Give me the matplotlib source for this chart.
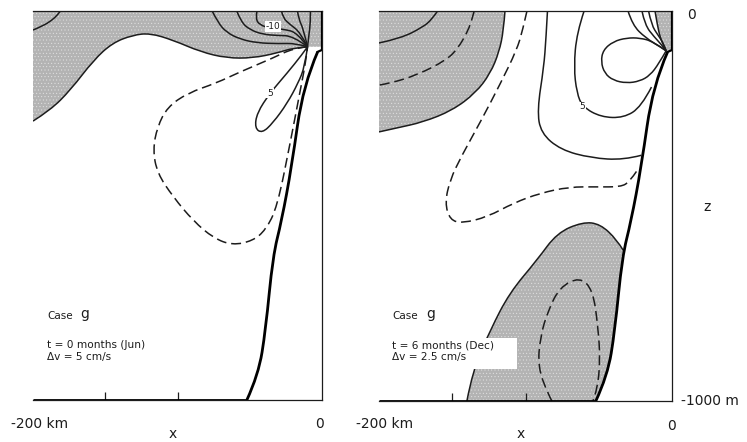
import matplotlib
matplotlib.use("Agg")
import matplotlib.pyplot as plt
from matplotlib.patches import PathPatch, Rectangle
from matplotlib.path import Path

plt.rcParams["font.family"] = ["DejaVu Sans"]
plt.rcParams["hatch.linewidth"] = 0.3

W, H = 747, 442

# shelf / slope topography (km, m), shared by both runs
SLOPE_X = [0, 0, -3, -13, -21, -28, -34, -39, -44, -52, -200]
SLOPE_Z = [0, -100, -105, -190, -400, -540, -630, -820, -935, -1000, -1000]

# ---- t = 0 months (Jun), dv = 5 cm/s ----
JUN_ZERO_X = [-200, -188, -174, -158, -145, -131, -119, -103, -84, -66, -48, -31, -20, -10]
JUN_ZERO_Z = [-283, -255, -203, -126, -82, -62, -57, -75, -105, -121, -121, -108, -95, -92]

JUN_CORNER_X = [-200, -193, -187, -183, -181]
JUN_CORNER_Z = [-49, -38, -24, -10, 0]

JUN_NEG1_X = [-76, -72, -66, -57, -45, -30, -18, -10]
JUN_NEG1_Z = [0, -30, -55, -72, -82, -84, -83, -92]
JUN_NEG2_X = [-59, -56, -50, -41, -31, -20, -10]
JUN_NEG2_Z = [0, -28, -48, -60, -63, -64, -92]
JUN_NEG3_X = [-45, -46, -43, -36, -26, -17, -10]
JUN_NEG3_Z = [0, -20, -36, -44, -47, -56, -92]
JUN_NEG4_X = [-28, -27, -22, -15, -10]
JUN_NEG4_Z = [0, -18, -35, -55, -92]
JUN_NEG5_X = [-17, -16, -13, -10]
JUN_NEG5_Z = [0, -22, -45, -92]
JUN_NEG6_X = [-8, -8, -9, -10]
JUN_NEG6_Z = [0, -30, -60, -92]

JUN_POS5_X = [-10, -14, -24, -36, -45, -46.5, -41.5, -34, -24, -16.5, -12, -10]
JUN_POS5_Z = [-92, -113, -159, -211, -262, -301, -314, -288, -237, -185, -144, -92]

JUN_DASH_X = [-10, -20, -34, -57, -73, -93, -107, -114, -117, -114, -103, -89, -75, -62,
              -48, -39, -31, -22, -15, -11, -10]
JUN_DASH_Z = [-92, -96, -121, -157, -185, -211, -247, -298, -357, -417, -478, -540, -584, -602,
              -591, -563, -504, -339, -203, -126, -92]

# ---- t = 6 months (Dec), dv = 2.5 cm/s ----
DEC_ZERO_X = [-114, -115, -118, -124, -134, -150, -170, -188, -200]
DEC_ZERO_Z = [0, -50, -105, -160, -210, -255, -285, -300, -310]

DEC_NEG1_X = [-160, -164, -170, -185, -200]
DEC_NEG1_Z = [0, -22, -41, -70, -82]
DEC_NEGDASH_X = [-135, -137, -140, -146, -154, -174, -192, -200]
DEC_NEGDASH_Z = [0, -28, -56, -95, -126, -164, -185, -190]

DEC_DASH_X = [-99, -102, -106, -117, -130, -144, -151.5, -155, -151.5, -143, -126, -108, -90,
              -70, -51, -35, -29, -24]
DEC_DASH_Z = [0, -50, -100, -185, -279, -374, -433, -492, -536, -544, -528, -492, -467,
              -451, -451, -451, -438, -410]

DEC_POS0_X = [-85, -86, -87.5, -92, -89.5, -76, -55, -33, -21]
DEC_POS0_Z = [0, -70, -144, -254, -313, -356, -377, -382, -370]

DEC_POS5_X = [-60, -65, -67, -65, -61, -48.5, -33, -21, -14]
DEC_POS5_Z = [0, -56, -144, -210, -246, -272, -274, -246, -195]

DEC_LOOP_X = [-4, -13, -22, -31, -40, -47, -48.5, -46, -40, -31, -22, -15, -9, -4]
DEC_LOOP_Z = [-102, -78, -69, -69, -78, -100, -130, -160, -178, -185, -180, -165, -135, -102]

DEC_TOP1_X = [-30, -27, -18, -8, -4]
DEC_TOP1_Z = [0, -36, -69, -92, -102]
DEC_TOP2_X = [-20.5, -18.5, -12, -7, -4]
DEC_TOP2_Z = [0, -36, -67, -87, -102]
DEC_TOP3_X = [-16, -14, -9.5, -5.5, -4]
DEC_TOP3_Z = [0, -36, -62, -85, -102]
DEC_TOPZERO_X = [-11.6, -10, -8, -5, -4]
DEC_TOPZERO_Z = [0, -36, -69, -95, -102]

DEC_DOME_X = [-140, -136, -124, -111, -92, -78.5, -61, -49, -37.5, -33.4]
DEC_DOME_Z = [-1000, -921, -818, -723, -638, -569, -541, -546, -587, -613]

DEC_DOMEDASH_X = [-82, -85, -91.5, -90, -84.5, -76.5, -63, -54, -50.5, -49, -51, -54]
DEC_DOMEDASH_Z = [-1000, -979, -913, -836, -767, -708, -682, -715, -810, -895, -972, -1000]

STIPPLE = dict(facecolor="#b3b3b3", edgecolor="#e6e6e6", hatch=".....", lw=0, zorder=1)
INK = "#1c1c1c"


def px(x, y):
    return x / W, 1 - y / H


def curve(xs, zs):
    """Quadratic bezier chain through the midpoints of the traced points."""
    pts = list(zip(xs, zs))
    verts, codes = [pts[0]], [Path.MOVETO]
    for i in range(1, len(pts) - 1):
        mid = ((pts[i][0] + pts[i + 1][0]) / 2, (pts[i][1] + pts[i + 1][1]) / 2)
        if i == len(pts) - 2:
            mid = pts[-1]
        verts += [pts[i], mid]
        codes += [Path.CURVE3, Path.CURVE3]
    if len(pts) == 2:
        verts.append(pts[1])
        codes.append(Path.LINETO)
    return verts, codes


def line(ax, xs, zs, dashed=False, lw=1.1, color=INK, z=3):
    verts, codes = curve(xs, zs)
    ls = (0, (6.5, 3.2)) if dashed else "-"
    ax.add_patch(PathPatch(Path(verts, codes), fill=False, edgecolor=color, lw=lw,
                           linestyle=ls, zorder=z, capstyle="butt"))


def region(ax, xs, zs, extra, **style):
    verts, codes = curve(xs, zs)
    verts = verts + extra + [verts[0]]
    codes = codes + [Path.LINETO] * len(extra) + [Path.CLOSEPOLY]
    ax.add_patch(PathPatch(Path(verts, codes), **style))


def setup_axes(rect):
    ax = fig.add_axes(rect)
    ax.set_xlim(-200, 0)
    ax.set_ylim(-1000, 0)
    ax.spines["left"].set_visible(False)
    for s in ("top", "right", "bottom"):
        ax.spines[s].set_linewidth(0.9)
        ax.spines[s].set_color(INK)
    ax.yaxis.tick_right()
    ax.set_yticks([-800, -600, -400, -200])
    ax.set_xticks([-150, -100, -50])
    ax.tick_params(axis="y", direction="in", length=6, width=0.9, labelright=False, color=INK)
    ax.tick_params(axis="x", direction="in", length=6, width=0.9, labelbottom=False, color=INK)
    return ax


def topography(ax):
    # land to the right of the slope
    region(ax, SLOPE_X[2:-1], SLOPE_Z[2:-1], [(0, -1000), (0, -100)],
           facecolor="white", edgecolor="none", zorder=2)
    # shelf step, smooth slope, flat floor
    ax.plot(SLOPE_X[:3], SLOPE_Z[:3], color="black", lw=1.6, zorder=4)
    line(ax, SLOPE_X[2:-1], SLOPE_Z[2:-1], lw=2.0, color="black", z=4)
    ax.plot(SLOPE_X[-2:], SLOPE_Z[-2:], color="black", lw=2.0, zorder=4,
            solid_capstyle="butt")


def label(ax, x, z, s):
    ax.text(x, z, s, fontsize=6.5, ha="center", va="center", zorder=5, color=INK,
            bbox=dict(facecolor="white", edgecolor="none", pad=0.5))


fig = plt.figure(figsize=(W / 100, H / 100), dpi=100)

# left run (June)
ax1 = setup_axes([33 / W, 42 / H, 289 / W, 389 / H])
region(ax1, JUN_ZERO_X, JUN_ZERO_Z, [(0, -92), (0, 0), (-200, 0)], **STIPPLE)
topography(ax1)
for xs, zs in [(JUN_ZERO_X, JUN_ZERO_Z), (JUN_CORNER_X, JUN_CORNER_Z),
               (JUN_NEG1_X, JUN_NEG1_Z), (JUN_NEG2_X, JUN_NEG2_Z), (JUN_NEG3_X, JUN_NEG3_Z),
               (JUN_NEG4_X, JUN_NEG4_Z), (JUN_NEG5_X, JUN_NEG5_Z), (JUN_NEG6_X, JUN_NEG6_Z),
               (JUN_POS5_X, JUN_POS5_Z)]:
    line(ax1, xs, zs)
line(ax1, JUN_DASH_X, JUN_DASH_Z, dashed=True)
label(ax1, -34, -40, "-10")
label(ax1, -36, -211, "5")

# right run (December)
ax2 = setup_axes([379 / W, 41 / H, 293 / W, 390 / H])
region(ax2, DEC_ZERO_X, DEC_ZERO_Z, [(-200, 0)], **STIPPLE)
region(ax2, DEC_DOME_X, DEC_DOME_Z, [(0, -613), (0, -1000)], **STIPPLE)
region(ax2, DEC_TOPZERO_X, DEC_TOPZERO_Z, [(0, -102), (0, 0)], **STIPPLE)
topography(ax2)
for xs, zs in [(DEC_ZERO_X, DEC_ZERO_Z), (DEC_NEG1_X, DEC_NEG1_Z), (DEC_POS0_X, DEC_POS0_Z),
               (DEC_POS5_X, DEC_POS5_Z), (DEC_LOOP_X, DEC_LOOP_Z), (DEC_TOP1_X, DEC_TOP1_Z),
               (DEC_TOP2_X, DEC_TOP2_Z), (DEC_TOP3_X, DEC_TOP3_Z), (DEC_TOPZERO_X, DEC_TOPZERO_Z),
               (DEC_DOME_X, DEC_DOME_Z)]:
    line(ax2, xs, zs)
for xs, zs in [(DEC_NEGDASH_X, DEC_NEGDASH_Z), (DEC_DASH_X, DEC_DASH_Z),
               (DEC_DOMEDASH_X, DEC_DOMEDASH_Z)]:
    line(ax2, xs, zs, dashed=True)
label(ax2, -61, -246, "5")
ax2.add_patch(Rectangle((-193, -918), 87, 80, facecolor="white", edgecolor="none", zorder=5))

# case annotations
for x0, case_g, t_text, dv_text in [(47, 80, "t = 0 months (Jun)", "\u0394v = 5 cm/s"),
                                     (392, 426, "t = 6 months (Dec)", "\u0394v = 2.5 cm/s")]:
    fig.text(*px(x0, 316), "Case", fontsize=7.5, va="center", color=INK, zorder=6)
    fig.text(*px(case_g, 314), "g", fontsize=10, va="center", color=INK, zorder=6)
    fig.text(*px(x0, 345), t_text, fontsize=7.6, va="center", color=INK, zorder=6)
    fig.text(*px(x0, 357), dv_text, fontsize=7.6, va="center", color=INK, zorder=6)

# axis annotations
fig.text(*px(11, 424), "-200 km", fontsize=10, va="center", color=INK)
fig.text(*px(173, 434), "x", fontsize=10, ha="center", va="center", color=INK)
fig.text(*px(320, 424), "0", fontsize=10, ha="center", va="center", color=INK)
fig.text(*px(356, 424), "-200 km", fontsize=10, va="center", color=INK)
fig.text(*px(521, 434), "x", fontsize=10, ha="center", va="center", color=INK)
fig.text(*px(671, 426), "0", fontsize=10, ha="center", va="center", color=INK)
fig.text(*px(692, 15), "0", fontsize=10, ha="center", va="center", color=INK)
fig.text(*px(707, 207), "z", fontsize=10, ha="center", va="center", color=INK)
fig.text(*px(681, 401), "-1000 m", fontsize=10, va="center", color=INK)

fig.savefig("out.png", dpi=100)
